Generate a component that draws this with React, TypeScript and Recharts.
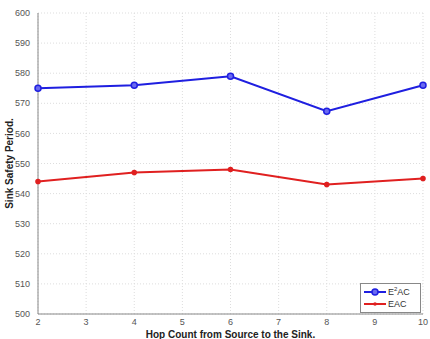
import React from "react";
import {
  LineChart,
  Line,
  XAxis,
  YAxis,
  CartesianGrid,
} from "recharts";

const HOPS = [2, 4, 6, 8, 10];
const E2AC = [575, 576, 579, 567.4, 576];
const EAC = [544, 547, 548, 543, 545];
const X_TICKS = [2, 3, 4, 5, 6, 7, 8, 9, 10];
const Y_TICKS = [500, 510, 520, 530, 540, 550, 560, 570, 580, 590, 600];

const data = HOPS.map((hop, i) => ({ hop, e2ac: E2AC[i], eac: EAC[i] }));

if (typeof document !== "undefined") document.body.style.margin = "0";

const FONT = "Arial, Liberation Sans, sans-serif";
const tickStyle = { fontSize: 9, fill: "#555", fontFamily: FONT };

function LegendBox() {
  return (
    <div
      style={{
        position: "absolute",
        left: 360,
        top: 283,
        width: 56,
        border: "1px solid #888",
        background: "#fff",
        padding: "2px 0 2px 3px",
        fontSize: 9,
        fontFamily: FONT,
        color: "#333",
        lineHeight: "12px",
      }}
    >
      <div style={{ display: "flex", alignItems: "center" }}>
        <svg width={22} height={10}>
          <line x1={0} y1={5} x2={22} y2={5} stroke="#1f1fe0" strokeWidth={2} />
          <circle cx={11} cy={5} r={3} fill="#6a6af0" stroke="#1f1fe0" strokeWidth={1.5} />
        </svg>
        <span style={{ marginLeft: 2 }}>
          E<sup style={{ fontSize: 6, lineHeight: 0 }}>2</sup>AC
        </span>
      </div>
      <div style={{ display: "flex", alignItems: "center" }}>
        <svg width={22} height={10}>
          <line x1={0} y1={5} x2={22} y2={5} stroke="#e02020" strokeWidth={2} />
          <circle cx={11} cy={5} r={1.8} fill="#e02020" />
        </svg>
        <span style={{ marginLeft: 2 }}>EAC</span>
      </div>
    </div>
  );
}

export default function App() {
  return (
    <div style={{ position: "relative", width: 430, height: 339, background: "#fff" }}>
      <LineChart
        width={430}
        height={339}
        data={data}
        margin={{ top: 13, right: 7, bottom: 0, left: 0 }}
      >
        <CartesianGrid stroke="#ddd" strokeDasharray="1 2" />
        <XAxis
          dataKey="hop"
          type="number"
          domain={[2, 10]}
          ticks={X_TICKS}
          tick={{ ...tickStyle, dy: -3 }}
          tickLine={false}
          axisLine={{ stroke: "#888" }}
          height={25}
          label={{
            value: "Hop Count from Source to the Sink.",
            position: "insideBottom",
            offset: 1,
            style: { fontSize: 10, fontWeight: "bold", fill: "#222", fontFamily: FONT },
          }}
        />
        <XAxis
          xAxisId="top"
          orientation="top"
          dataKey="hop"
          type="number"
          domain={[2, 10]}
          ticks={X_TICKS}
          tick={false}
          tickLine={false}
          axisLine={{ stroke: "#888" }}
          height={0}
        />
        <YAxis
          domain={[500, 600]}
          ticks={Y_TICKS}
          tick={tickStyle}
          tickLine={false}
          axisLine={{ stroke: "#888" }}
          width={38}
          label={{
            value: "Sink Safety Period.",
            angle: -90,
            position: "insideLeft",
            offset: 9,
            style: { textAnchor: "middle", fontSize: 10, fontWeight: "bold", fill: "#222", fontFamily: FONT },
          }}
        />
        <YAxis
          yAxisId="right"
          orientation="right"
          domain={[500, 600]}
          tick={false}
          tickLine={false}
          axisLine={{ stroke: "#888" }}
          width={0}
        />
        <Line
          dataKey="e2ac"
          stroke="#1f1fe0"
          strokeWidth={2}
          dot={{ r: 3, fill: "#6a6af0", stroke: "#1f1fe0", strokeWidth: 1.5 }}
          isAnimationActive={false}
        />
        <Line
          dataKey="eac"
          stroke="#e02020"
          strokeWidth={2}
          dot={{ r: 1.8, fill: "#e02020", stroke: "#e02020" }}
          isAnimationActive={false}
        />
      </LineChart>
      <LegendBox />
    </div>
  );
}
